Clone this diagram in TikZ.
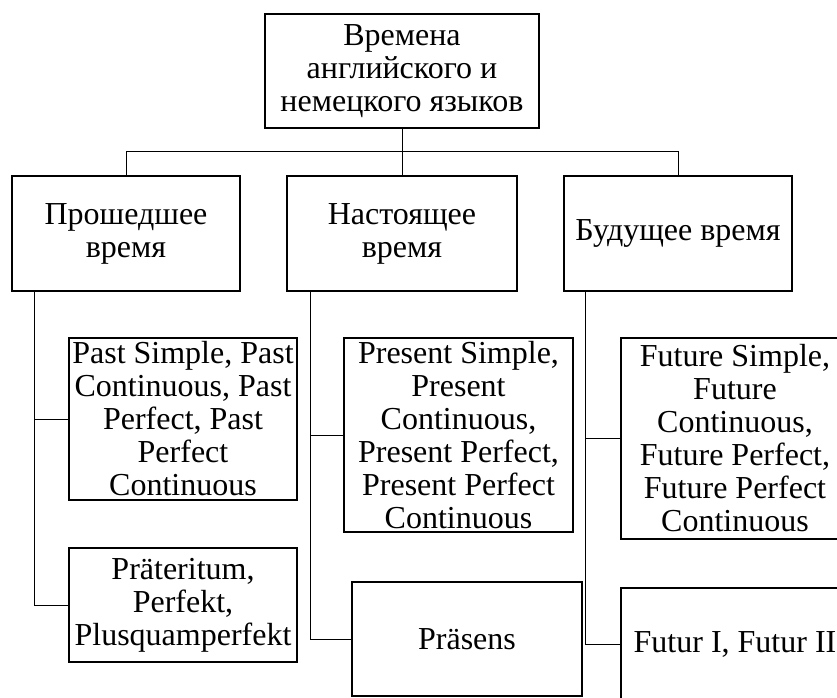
\documentclass[tikz,border=0pt]{standalone}
\usepackage{fontspec}
\setmainfont{Liberation Serif}
\begin{document}
\begin{tikzpicture}[x=1pt,y=-1pt,
  box/.style={draw,line width=1.4pt,inner sep=0pt,align=center,
    font={\fontsize{32}{33}\selectfont}},
  conn/.style={line width=0.9pt}]
\useasboundingbox (0,0) rectangle (837,697);
\clip (0,0) rectangle (837,697);
\node[box,minimum width=274pt,minimum height=114pt] (top) at (402,71) {Времена\\английского и\\немецкого языков};
\node[box,minimum width=228pt,minimum height=115pt] (b1) at (126,233.5) {Прошедшее\\время};
\node[box,minimum width=230pt,minimum height=115pt] (b2) at (402,233.5) {Настоящее\\время};
\node[box,minimum width=228pt,minimum height=115pt] (b3) at (678,233.5) {Будущее время};
\node[box,minimum width=228pt,minimum height=162pt] (p1) at (183,419) {Past Simple, Past\\Continuous, Past\\Perfect, Past\\Perfect\\Continuous};
\node[box,minimum width=228pt,minimum height=114pt] (p2) at (183,605) {Präteritum,\\Perfekt,\\Plusquamperfekt};
\node[box,minimum width=229pt,minimum height=194pt] (n1) at (458.5,435) {Present Simple,\\Present\\Continuous,\\Present Perfect,\\Present Perfect\\Continuous};
\node[box,minimum width=230pt,minimum height=114pt] (n2) at (467,639) {Präsens};
\node[box,minimum width=228pt,minimum height=201pt] (f1) at (735,438.5) {Future Simple,\\Future\\Continuous,\\Future Perfect,\\Future Perfect\\Continuous};
\node[box,minimum width=228pt,minimum height=112pt] (f2) at (735,644) {Futur I, Futur II};
\draw[conn] (top.south) -- ++(0,23) coordinate (j);
\draw[conn] (b1.north) |- (j) -| (b3.north);
\draw[conn] (j) -- (b2.north);
\draw[conn] ([xshift=23pt]b1.south west) |- (p1.west);
\draw[conn] ([xshift=23pt]b1.south west) |- (p2.west);
\draw[conn] ([xshift=24pt]b2.south west) |- (n1.west);
\draw[conn] ([xshift=24pt]b2.south west) |- (n2.west);
\draw[conn] ([xshift=22pt]b3.south west) |- (f1.west);
\draw[conn] ([xshift=22pt]b3.south west) |- (f2.west);
\end{tikzpicture}
\end{document}
